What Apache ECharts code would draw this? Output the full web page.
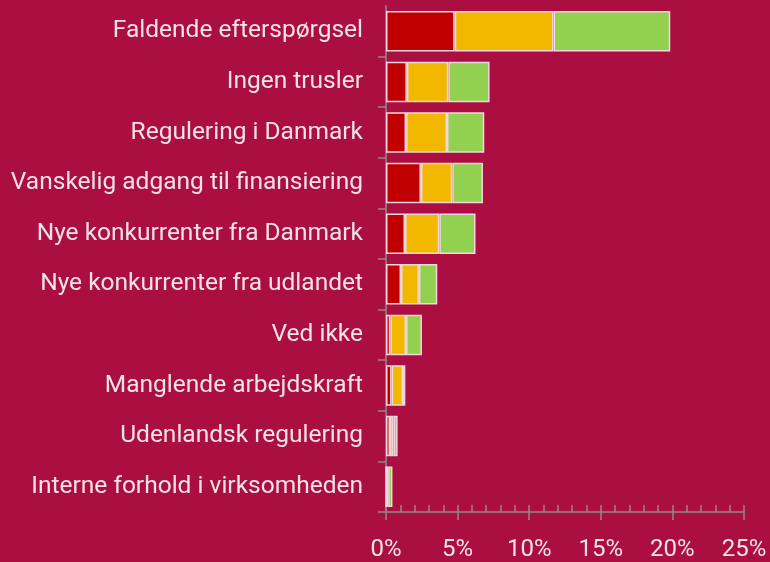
<!DOCTYPE html>
<html>
<head>
<meta charset="utf-8">
<script src="https://cdn.jsdelivr.net/npm/echarts@6/dist/echarts.min.js"></script>
<style>
  html, body { margin: 0; padding: 0; background: #ab0e40; }
  #chart { width: 770px; height: 562px; }
</style>
</head>
<body>
<div id="chart"></div>
<script>
var categories = [
    'Faldende efterspørgsel',
    'Ingen trusler',
    'Regulering i Danmark',
    'Vanskelig adgang til finansiering',
    'Nye konkurrenter fra Danmark',
    'Nye konkurrenter fra udlandet',
    'Ved ikke',
    'Manglende arbejdskraft',
    'Udenlandsk regulering',
    'Interne forhold i virksomheden'
];
// three stacked parts per bar (red, yellow, green), in percent
var redValues = [4.8, 1.46, 1.4, 2.44, 1.33, 1.05, 0.3, 0.39, 0.28, 0];
var yellowValues = [6.9, 2.89, 2.86, 2.19, 2.39, 1.25, 1.1, 0.8, 0.25, 0.15];
var greenValues = [8.15, 2.88, 2.6, 2.14, 2.53, 1.28, 1.11, 0.16, 0.28, 0.3];
var xTicks = [0, 5, 10, 15, 20, 25];

var chartDom = document.getElementById('chart');
var myChart = echarts.init(chartDom);

var textColor = '#f5e3e9';
var axisGrey = '#8f8a8c';
var borderCol = '#f2d8de';

function bar(name, data, color) {
    return {
        name: name,
        type: 'bar',
        stack: 'total',
        barCategoryGap: '20%',
        data: data,
        itemStyle: {
            color: color,
            borderColor: borderCol,
            borderWidth: 1.5
        }
    };
}

var option = {
    backgroundColor: '#ab0e40',
    animation: false,
    grid: { left: 386, right: 26, top: 6, bottom: 49 },
    xAxis: [
        {
            type: 'value',
            min: xTicks[0],
            max: xTicks[xTicks.length - 1],
            interval: 5,
            splitLine: { show: false },
            axisLine: { show: true, lineStyle: { color: axisGrey, width: 1.5 } },
            axisTick: { show: true, inside: false, length: 8, lineStyle: { color: axisGrey, width: 1.5 } },
            axisLabel: {
                color: textColor,
                fontSize: 24,
                fontFamily: 'Roboto',
                margin: 26,
                formatter: '{value}%'
            }
        },
        {
            // inside ticks + minor ticks above the axis line
            type: 'value',
            position: 'bottom',
            min: xTicks[0],
            max: xTicks[xTicks.length - 1],
            interval: 5,
            splitLine: { show: false },
            axisLine: { show: false },
            axisLabel: { show: false },
            axisTick: { show: true, inside: true, length: 7, lineStyle: { color: axisGrey, width: 1.5 } },
            minorTick: { show: true, splitNumber: 5, length: 7, lineStyle: { color: axisGrey, width: 1.5 } }
        }
    ],
    yAxis: {
        type: 'category',
        inverse: true,
        data: categories,
        axisLine: { show: true, lineStyle: { color: axisGrey, width: 1.5 } },
        axisTick: {
            show: true,
            length: 8,
            interval: function (index) { return index !== 0; },
            lineStyle: { color: axisGrey, width: 1.5 }
        },
        axisLabel: {
            color: textColor,
            fontSize: 24.5,
            fontFamily: 'Roboto',
            margin: 23
        }
    },
    series: [
        bar('Rød', redValues, '#c00000'),
        bar('Gul', yellowValues, '#f2b800'),
        bar('Grøn', greenValues, '#92d050')
    ]
};

myChart.setOption(option);
</script>
</body>
</html>
